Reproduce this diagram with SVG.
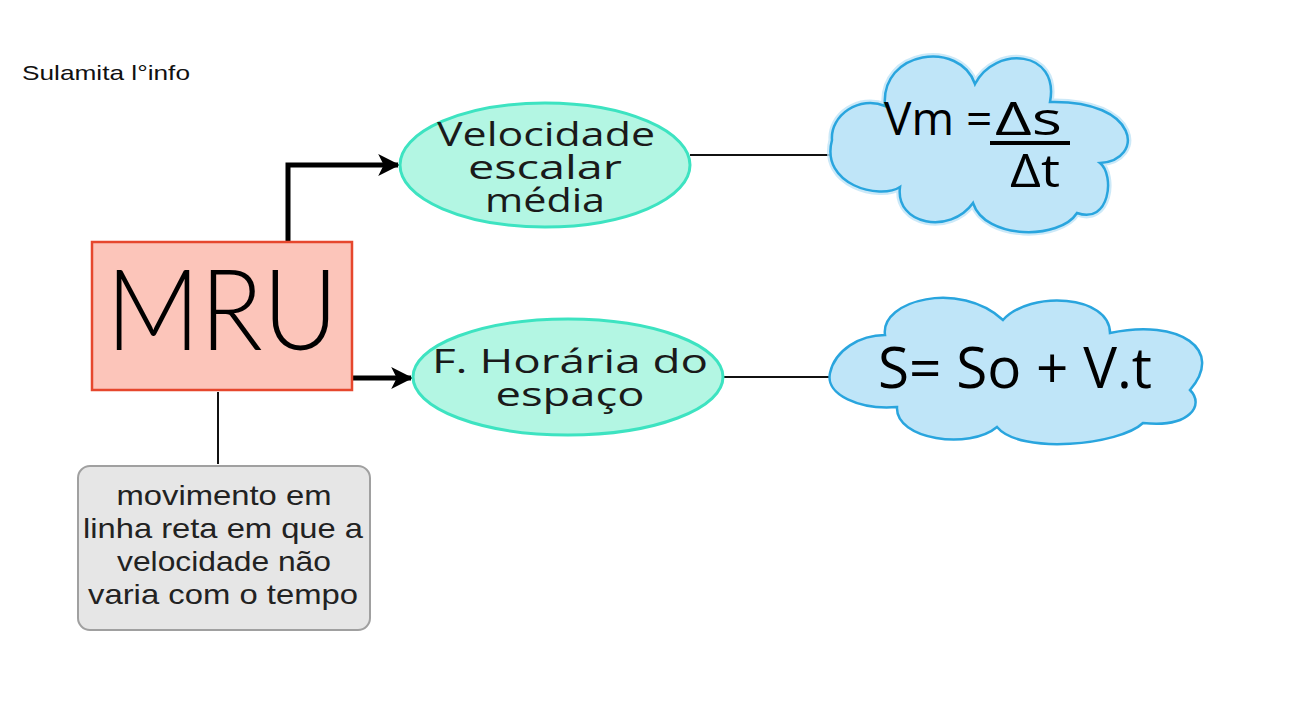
<svg xmlns="http://www.w3.org/2000/svg" width="1293" height="720" viewBox="0 0 1293 720">
<style>
.conn{fill:none;stroke:#000;stroke-width:5;stroke-linejoin:miter}
.thin{fill:none;stroke:#111;stroke-width:2}
.ell{fill:#b3f6e3;stroke:#3de3c1;stroke-width:3}
.cloud{fill:#bfe5f8;stroke:#29a5de;stroke-width:2.5}
.halo{fill:none;stroke:#bfe3f6;stroke-width:7;opacity:0.8}
.etxt{font-family:"Open Sans","Noto Sans",sans-serif;font-size:33px;fill:#1a1a1a;text-anchor:middle}
.gtxt{font-family:"Liberation Sans",Arial,sans-serif;font-size:28px;fill:#222;text-anchor:middle}
.ftxt{font-family:"Open Sans","Noto Sans",sans-serif;fill:#000}
</style>
<defs>
<marker id="arr" viewBox="0 0 10 10" refX="9" refY="5" markerWidth="4.4" markerHeight="4.4" orient="auto" markerUnits="strokeWidth">
<path d="M0,0 L10,5 L0,10 L2.5,5 Z" fill="#000"/>
</marker>
</defs>
<rect width="1293" height="720" fill="#fff"/>
<text x="22" y="80" font-family="'Liberation Sans',Arial,sans-serif" font-size="21" fill="#111" textLength="168" lengthAdjust="spacingAndGlyphs">Sulamita l°info</text>
<g id="connectors">
<path class="conn" d="M288,242 L288,165 L398,165" marker-end="url(#arr)"/>
<path class="conn" d="M352,378 L411,378" marker-end="url(#arr)"/>
<line class="thin" x1="218" y1="392" x2="218" y2="464"/>
<line class="thin" x1="690" y1="155" x2="830" y2="155"/>
<line class="thin" x1="723" y1="377" x2="832" y2="377"/>
</g>
<g id="mru">
<rect x="92" y="242" width="260" height="148" fill="#fcc5ba" stroke="#e6472d" stroke-width="2.5"/>
<text x="222" y="350" font-family="Lato,'Open Sans',sans-serif" font-weight="300" font-size="112" fill="#000" text-anchor="middle" textLength="232" lengthAdjust="spacingAndGlyphs">MRU</text>
</g>
<g id="definicao">
<rect x="78" y="466" width="292" height="164" rx="12" fill="#e6e6e6" stroke="#a0a0a0" stroke-width="2"/>
<text class="gtxt" x="224" y="505" textLength="215" lengthAdjust="spacingAndGlyphs">movimento em</text>
<text class="gtxt" x="223" y="538" textLength="280" lengthAdjust="spacingAndGlyphs">linha reta em que a</text>
<text class="gtxt" x="224" y="571" textLength="214" lengthAdjust="spacingAndGlyphs">velocidade não</text>
<text class="gtxt" x="223" y="604" textLength="270" lengthAdjust="spacingAndGlyphs">varia com o tempo</text>
</g>
<g id="velocidade">
<ellipse class="ell" cx="545" cy="165" rx="145" ry="62"/>
<text class="etxt" x="546" y="146" textLength="218" lengthAdjust="spacingAndGlyphs">Velocidade</text>
<text class="etxt" x="545" y="179" textLength="154" lengthAdjust="spacingAndGlyphs">escalar</text>
<text class="etxt" x="545" y="212" textLength="120" lengthAdjust="spacingAndGlyphs">média</text>
</g>
<g id="horaria">
<ellipse class="ell" cx="568" cy="377" rx="155" ry="58"/>
<text class="etxt" x="570" y="373" textLength="276" lengthAdjust="spacingAndGlyphs">F. Horária do</text>
<text class="etxt" x="570" y="406" textLength="149" lengthAdjust="spacingAndGlyphs">espaço</text>
</g>
<g id="formula-vm">
<path class="halo" d="M832,140 C830,115 860,95 885,106 C880,50 960,40 975,84 C995,45 1060,50 1050,102 C1140,100 1145,160 1100,163 C1115,175 1110,225 1077,213 C1060,240 985,240 973,203 C950,235 895,225 900,187 C880,200 820,185 832,140 Z"/>
<path class="cloud" d="M832,140 C830,115 860,95 885,106 C880,50 960,40 975,84 C995,45 1060,50 1050,102 C1140,100 1145,160 1100,163 C1115,175 1110,225 1077,213 C1060,240 985,240 973,203 C950,235 895,225 900,187 C880,200 820,185 832,140 Z"/>
<text class="ftxt" x="884" y="135" font-size="46">Vm =</text>
<text class="ftxt" x="995" y="135" font-size="46" textLength="67" lengthAdjust="spacingAndGlyphs">Δs</text>
<rect x="990" y="141" width="80" height="4" fill="#000"/>
<text class="ftxt" x="1010" y="187" font-size="46" textLength="50" lengthAdjust="spacingAndGlyphs">Δt</text>
</g>
<g id="formula-s">
<path class="cloud" d="M830,373 C835,350 860,335 885,335 C880,300 960,280 1003,320 C1030,290 1110,295 1110,333 C1180,318 1225,350 1190,390 C1205,405 1190,428 1143,423 C1120,445 1020,455 997,427 C970,450 895,440 897,407 C860,410 825,395 830,373 Z"/>
<text class="ftxt" x="878" y="388" font-size="56" textLength="274" lengthAdjust="spacingAndGlyphs">S= So + V.t</text>
</g>
</svg>
